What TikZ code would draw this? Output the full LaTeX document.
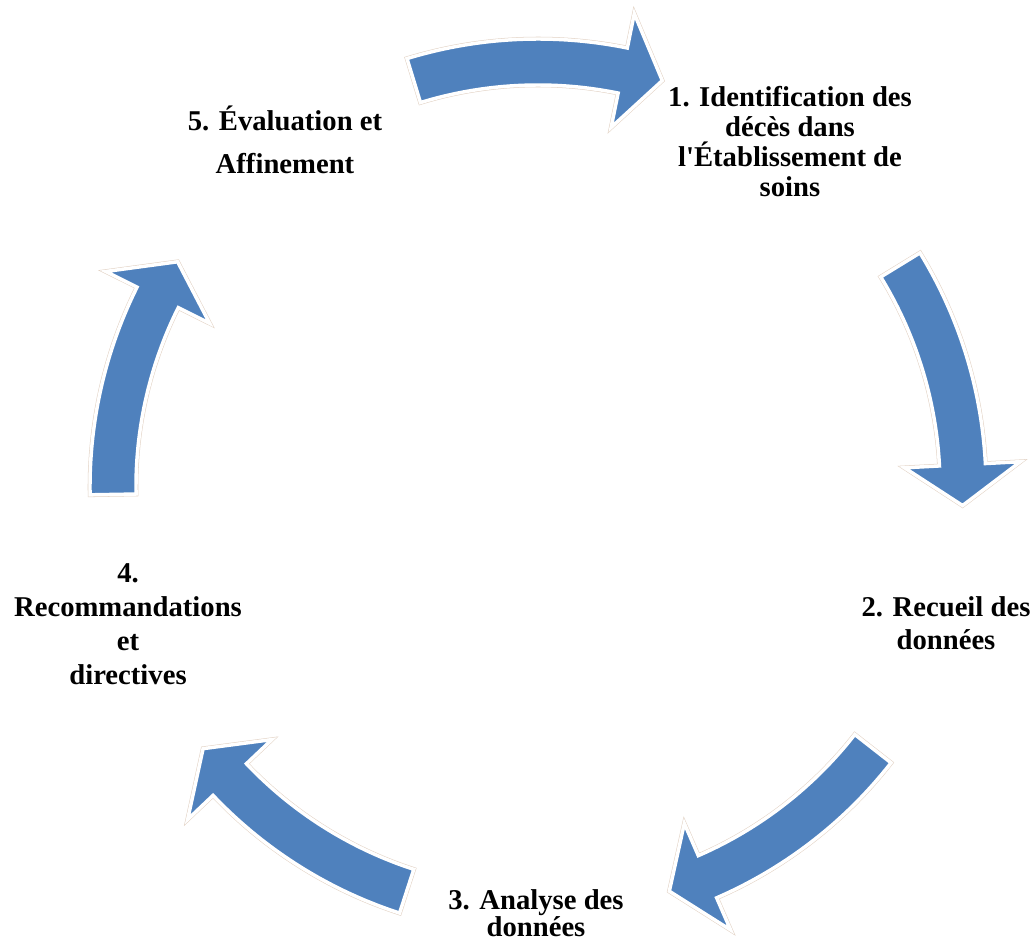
\documentclass[tikz,border=0pt]{standalone}
\usepackage{fontspec}
\setmainfont{Liberation Serif}
\definecolor{arrowblue}{RGB}{79,129,189}
\definecolor{glowedge}{RGB}{226,210,196}
\tikzset{
  blockarrow/.style={fill=arrowblue, draw=white, line width=2.6pt, line join=miter,
    preaction={draw=glowedge, line width=3.4pt}},
  steplabel/.style={font=\bfseries\fontsize{21.5}{22.5}\selectfont, align=center, inner sep=0.75pt}
}
\begin{document}
\begin{tikzpicture}[x=0.75pt,y=0.75pt,yscale=-1,xscale=1]
\useasboundingbox (0,0) rectangle (1034,944);
%Shape: Curved Arrow (top) 
\draw [blockarrow, shift={(538,487)}] (-107:448) arc (-107:-78.5:448) -- (-78.5:483) -- (-73:425) -- (-78.5:367) -- (-78.5:402) arc (-78.5:-107:402) -- cycle ;
%Shape: Curved Arrow (right) 
\draw [blockarrow, shift={(538,487)}] (-31.5:448) arc (-31.5:-3:448) -- (-3:483) -- (2.5:425) -- (-3:367) -- (-3:402) arc (-3:-31.5:402) -- cycle ;
%Shape: Curved Arrow (bottom right) 
\draw [blockarrow, shift={(538,487)}] (38:448) arc (38:66.5:448) -- (66.5:483) -- (72:425) -- (66.5:367) -- (66.5:402) arc (66.5:38:402) -- cycle ;
%Shape: Curved Arrow (bottom left) 
\draw [blockarrow, shift={(538,487)}] (108:448) arc (108:136.5:448) -- (136.5:483) -- (142:425) -- (136.5:367) -- (136.5:402) arc (136.5:108:402) -- cycle ;
%Shape: Curved Arrow (left) 
\draw [blockarrow, shift={(538,487)}] (-181:448) arc (-181:-153.5:448) -- (-153.5:483) -- (-148:425) -- (-153.5:367) -- (-153.5:402) arc (-153.5:-181:402) -- cycle ;

% Text Node
\draw (790,142) node [steplabel] (ident) {1. Identification des\\d\'ec\`es dans\\l\textquotesingle\'Etablissement de\\soins};
% Text Node
\draw (946,623) node [steplabel] (recueil) {2. Recueil des\\[2.25pt]donn\'ees};
% Text Node
\draw (536,913) node [steplabel] (analyse) {3. Analyse des\\[-2pt]donn\'ees};
% Text Node
\draw (128,624) node [steplabel] (recomm) {4.\\[3pt]Recommandations\\[3pt]et\\[3pt]directives};
% Text Node
\draw (285,140) node [steplabel] (evaluation) {5. \'Evaluation et\\[9.5pt]Affinement};
\end{tikzpicture}
\end{document}
